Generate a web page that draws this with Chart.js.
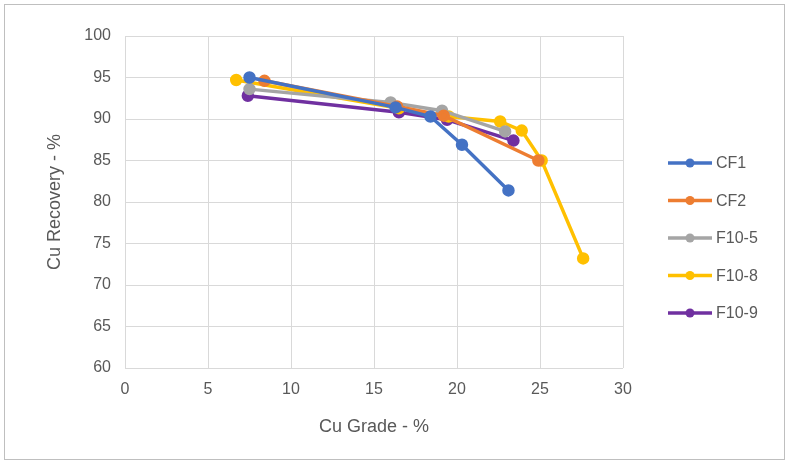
<!DOCTYPE html>
<html>
<head>
<meta charset="utf-8">
<script src="https://cdn.jsdelivr.net/npm/chart.js@4/dist/chart.umd.min.js"></script>
<style>
  html, body { margin: 0; padding: 0; background: #fff; }
  #wrap { position: relative; width: 791px; height: 466px; }
  #frame { position: absolute; left: 4px; top: 4px; width: 781px; height: 456px; border: 1px solid #bfbfbf; box-sizing: border-box; pointer-events: none; }
</style>
</head>
<body>
<div id="wrap">
  <canvas id="chart" width="791" height="466"></canvas>
  <div id="frame"></div>
</div>
<script>
// series
const seriesNames = ['CF1', 'CF2', 'F10-5', 'F10-8', 'F10-9'];
const seriesColors = ['#4472c4', '#ed7d31', '#a5a5a5', '#ffc000', '#7030a0'];

const cf1Grade = [7.5, 16.3, 18.4, 20.3, 23.1];
const cf1Rec   = [95.0, 91.4, 90.3, 86.9, 81.4];
const cf2Grade = [8.4, 16.4, 19.2, 24.9];
const cf2Rec   = [94.6, 91.5, 90.4, 85.0];
const f105Grade = [7.5, 16.0, 19.1, 22.9];
const f105Rec   = [93.6, 92.0, 91.0, 88.5];
const f108Grade = [6.7, 16.5, 19.5, 22.6, 23.9, 25.1, 27.6];
const f108Rec   = [94.7, 91.3, 90.3, 89.7, 88.6, 85.0, 73.2];
const f109Grade = [7.4, 16.5, 19.4, 23.4];
const f109Rec   = [92.8, 90.8, 89.9, 87.4];

const xTicks = [0, 5, 10, 15, 20, 25, 30];
const yTicks = [60, 65, 70, 75, 80, 85, 90, 95, 100];

const grades = [cf1Grade, cf2Grade, f105Grade, f108Grade, f109Grade];
const recs = [cf1Rec, cf2Rec, f105Rec, f108Rec, f109Rec];

const datasets = seriesNames.map((name, i) => ({
  label: name,
  data: grades[i].map((g, j) => ({ x: g, y: recs[i][j] })),
  borderColor: seriesColors[i],
  backgroundColor: seriesColors[i],
  borderWidth: 3.5,
  pointRadius: 4.5,
  pointHoverRadius: 4.5,
  showLine: true,
  tension: 0
}));

const font = 'Liberation Sans, Arial, sans-serif';

// legend drawn at the right like the Excel original
const sideLegend = {
  id: 'sideLegend',
  afterDraw(chart) {
    const ctx = chart.ctx;
    ctx.save();
    seriesNames.forEach((name, i) => {
      const y = 163 + i * 37.5;
      ctx.strokeStyle = seriesColors[i];
      ctx.lineWidth = 3.5;
      ctx.beginPath();
      ctx.moveTo(668, y);
      ctx.lineTo(712, y);
      ctx.stroke();
      ctx.fillStyle = seriesColors[i];
      ctx.beginPath();
      ctx.arc(690, y, 4.5, 0, Math.PI * 2);
      ctx.fill();
      ctx.fillStyle = '#595959';
      ctx.font = '16px ' + font;
      ctx.textBaseline = 'middle';
      ctx.fillText(name, 716, y + 1);
    });
    ctx.restore();
  }
};

new Chart(document.getElementById('chart').getContext('2d'), {
  type: 'scatter',
  data: { datasets },
  options: {
    responsive: false,
    animation: false,
    layout: { padding: { left: 44, top: 36, right: 168, bottom: 28 } },
    plugins: { legend: { display: false }, tooltip: { enabled: false } },
    scales: {
      x: {
        type: 'linear', min: 0, max: 30,
        afterBuildTicks: s => { s.ticks = xTicks.map(v => ({ value: v })); },
        afterFit: s => { s.height = 70; },
        grid: { color: '#d9d9d9', lineWidth: 1, drawTicks: false },
        border: { display: false },
        ticks: { color: '#595959', font: { family: font, size: 16 }, padding: 12 },
        title: { display: true, text: 'Cu Grade - %', color: '#595959', font: { family: font, size: 18 }, padding: { top: 0, bottom: 0 } }
      },
      y: {
        type: 'linear', min: 60, max: 100,
        afterBuildTicks: s => { s.ticks = yTicks.map(v => ({ value: v })); },
        afterFit: s => { s.width = 81; },
        grid: { color: '#d9d9d9', lineWidth: 1, drawTicks: false },
        border: { display: false },
        ticks: { color: '#595959', font: { family: font, size: 16 }, padding: 14 },
        title: { display: true, text: 'Cu Recovery - %', color: '#595959', font: { family: font, size: 18 }, padding: { top: 0, bottom: 0 } }
      }
    }
  },
  plugins: [sideLegend]
});
</script>
</body>
</html>
